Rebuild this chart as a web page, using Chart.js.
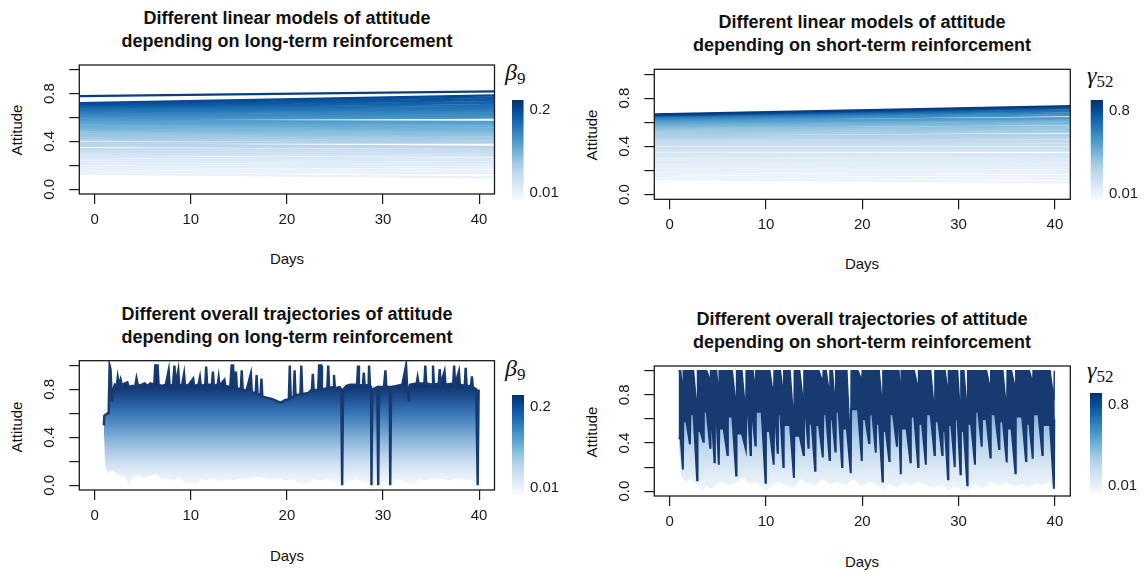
<!DOCTYPE html>
<html>
<head>
<meta charset="utf-8">
<script src="https://cdn.jsdelivr.net/npm/chart.js@4.4.0/dist/chart.umd.min.js"></script>
<style>
body { margin: 0; background: #fff; width: 1145px; height: 572px; position: relative; overflow: hidden;
       font-family: "Liberation Sans", Arial, sans-serif; color: #111; }
canvas { position: absolute; }
.title { position: absolute; width: 520px; text-align: center; font-weight: bold; font-size: 18px; line-height: 22.5px; }
.lab { position: absolute; font-size: 15px; white-space: nowrap; transform: translate(-50%, -50%); }
.ylab { transform: translate(-50%, -50%) rotate(-90deg); }
.sym { position: absolute; font-family: "Liberation Serif", "DejaVu Serif", serif; font-style: italic; font-size: 24px; line-height: 24px; }
.sym span { font-style: normal; font-size: 17px; position: relative; top: 4px; }
</style>
</head>
<body>

<div class="title" style="left:27px;top:7px">Different linear models of attitude<br>depending on long-term reinforcement</div>
<div class="title" style="left:602px;top:11px">Different linear models of attitude<br>depending on short-term reinforcement</div>
<div class="title" style="left:27px;top:303px">Different overall trajectories of attitude<br>depending on long-term reinforcement</div>
<div class="title" style="left:602px;top:308px">Different overall trajectories of attitude<br>depending on short-term reinforcement</div>

<div class="lab ylab" style="left:16px;top:130px">Attitude</div>
<div class="lab ylab" style="left:591px;top:135px">Attitude</div>
<div class="lab ylab" style="left:16px;top:427px">Attitude</div>
<div class="lab ylab" style="left:591px;top:432px">Attitude</div>
<div class="lab" style="left:287px;top:258px">Days</div>
<div class="lab" style="left:862px;top:263px">Days</div>
<div class="lab" style="left:287px;top:555px">Days</div>
<div class="lab" style="left:862px;top:561px">Days</div>

<div class="sym" style="left:505px;top:60px">β<span>9</span></div>
<div class="sym" style="left:1087px;top:63px">γ<span>52</span></div>
<div class="sym" style="left:505px;top:356px">β<span>9</span></div>
<div class="sym" style="left:1087px;top:358px">γ<span>52</span></div>

<canvas id="tl" width="572" height="286" style="left:0;top:0"></canvas>
<canvas id="tr" width="572" height="286" style="left:573px;top:0"></canvas>
<canvas id="bl" width="572" height="286" style="left:0;top:286px"></canvas>
<canvas id="br" width="572" height="286" style="left:573px;top:286px"></canvas>
<canvas id="cbTL" width="72" height="130" style="left:500px;top:85px"></canvas>
<canvas id="cbTR" width="67" height="130" style="left:1078px;top:85px"></canvas>
<canvas id="cbBL" width="72" height="130" style="left:500px;top:380px"></canvas>
<canvas id="cbBR" width="67" height="130" style="left:1078px;top:378px"></canvas>

<script>
// ---- axes ----
const dayTicks = [0, 10, 20, 30, 40];
const attTicks = [0, 0.2, 0.4, 0.6, 0.8, 1.0];
const attLabels = [0, 0.4, 0.8];
const dayRange = [-1.6, 41.6];
const attRange = [-0.04, 1.04];

// ---- linear models (value at left and right edge of the plot) ----
const lineDays = [-1.6, 41.6];

// long-term reinforcement, beta_9
const ltStart = [0.78, 0.72, 0.715, 0.705, 0.70, 0.69, 0.685, 0.675, 0.665, 0.655,
                 0.645, 0.635, 0.62, 0.61, 0.60, 0.585, 0.575, 0.56, 0.55, 0.535,
                 0.52, 0.505, 0.49, 0.475, 0.46, 0.445, 0.43, 0.415, 0.39, 0.375,
                 0.36, 0.335, 0.32, 0.305, 0.29, 0.27, 0.25, 0.23, 0.21, 0.19,
                 0.17, 0.15, 0.13];
const ltEnd = [0.82, 0.785, 0.77, 0.755, 0.745, 0.73, 0.72, 0.705, 0.69, 0.675,
               0.665, 0.65, 0.635, 0.62, 0.605, 0.60, 0.565, 0.555, 0.54, 0.525,
               0.51, 0.495, 0.48, 0.465, 0.45, 0.435, 0.42, 0.40, 0.39, 0.355,
               0.345, 0.33, 0.31, 0.295, 0.28, 0.255, 0.24, 0.22, 0.20, 0.18,
               0.155, 0.135, 0.10];
const ltBeta = [0.21, 0.20, 0.195, 0.19, 0.185, 0.18, 0.175, 0.17, 0.165, 0.16,
                0.155, 0.15, 0.145, 0.14, 0.135, 0.13, 0.125, 0.12, 0.115, 0.11,
                0.105, 0.10, 0.095, 0.09, 0.085, 0.08, 0.075, 0.07, 0.065, 0.06,
                0.055, 0.05, 0.045, 0.04, 0.035, 0.03, 0.026, 0.022, 0.019, 0.016,
                0.013, 0.011, 0.01];

// short-term reinforcement, gamma_52
const stStart = [0.665, 0.66, 0.655, 0.65, 0.64, 0.63, 0.62, 0.61, 0.595, 0.585,
                 0.57, 0.56, 0.545, 0.53, 0.515, 0.50, 0.485, 0.47, 0.455, 0.44,
                 0.425, 0.41, 0.39, 0.375, 0.36, 0.34, 0.325, 0.31, 0.29, 0.275,
                 0.26, 0.24, 0.225, 0.205, 0.19, 0.17, 0.15, 0.13];
const stEnd = [0.735, 0.725, 0.715, 0.70, 0.69, 0.675, 0.66, 0.635, 0.63, 0.615,
               0.60, 0.585, 0.565, 0.55, 0.535, 0.52, 0.495, 0.48, 0.465, 0.445,
               0.43, 0.41, 0.39, 0.375, 0.365, 0.335, 0.32, 0.305, 0.285, 0.27,
               0.25, 0.235, 0.215, 0.195, 0.18, 0.155, 0.13, 0.10];
const stGamma = [0.86, 0.80, 0.74, 0.68, 0.63, 0.58, 0.54, 0.50, 0.46, 0.43,
                 0.40, 0.37, 0.34, 0.32, 0.30, 0.28, 0.26, 0.24, 0.22, 0.20,
                 0.18, 0.165, 0.15, 0.135, 0.12, 0.105, 0.09, 0.08, 0.07, 0.06,
                 0.05, 0.042, 0.035, 0.028, 0.022, 0.017, 0.013, 0.01];

// ---- overall trajectories, long-term: upper and lower envelope of the bundle ----
const blTopDays = [0.95, 1.00, 1.30, 1.45, 1.55, 1.65, 1.80, 1.95, 2.10, 2.30,
                   2.40, 2.55, 2.70, 2.85, 3.10, 3.40, 3.55, 3.90, 4.20, 4.35,
                   4.50, 4.90, 5.20, 5.50, 5.80, 6.20, 6.30, 6.55, 6.65, 7.00,
                   7.40, 7.70, 7.80, 8.15, 8.30, 8.40, 8.70, 8.80, 9.10, 9.30,
                   9.40, 9.80, 10.25, 10.35, 10.80, 10.95, 11.05, 11.50, 11.60, 11.70,
                   12.20, 12.30, 12.40, 12.80, 12.90, 13.00, 13.50, 13.60, 14.10, 14.25,
                   14.40, 14.50, 14.70, 14.80, 15.20, 15.30, 15.40, 15.80, 16.25, 16.35,
                   16.75, 16.85, 16.95, 17.25, 17.35, 17.45, 18.00, 18.50, 19.00, 19.40,
                   19.80, 20.20, 20.30, 20.40, 20.70, 20.80, 20.90, 21.40, 21.50, 21.60,
                   22.20, 22.60, 22.70, 22.80, 23.25, 23.35, 23.55, 23.65, 24.20, 24.30,
                   24.40, 24.80, 24.90, 25.00, 25.50, 25.65, 25.75, 25.85, 26.20, 26.60,
                   27.30, 27.40, 27.50, 27.90, 28.00, 28.10, 28.50, 28.55, 28.65, 28.75,
                   28.80, 28.88, 29.40, 29.50, 29.60, 30.10, 30.25, 30.35, 30.70, 30.75,
                   30.85, 31.40, 32.00, 32.40, 32.50, 32.70, 32.80, 33.50, 33.60, 33.70,
                   34.30, 34.40, 34.50, 35.10, 35.20, 35.30, 35.80, 35.90, 36.00, 36.40,
                   36.50, 37.30, 37.40, 37.50, 37.90, 38.00, 38.50, 38.60, 38.70, 39.15,
                   39.25, 39.35, 39.70, 39.85, 39.95];
const blTop = [0.50, 0.58, 0.60, 0.60, 1.00, 0.97, 0.70, 0.80, 0.84, 0.83,
               0.90, 0.83, 0.88, 0.83, 0.85, 0.86, 0.82, 0.83, 0.82, 0.89,
               0.83, 0.84, 0.85, 0.83, 0.85, 0.84, 1.00, 1.00, 0.84, 0.83,
               0.84, 0.96, 0.83, 0.84, 1.00, 0.84, 0.96, 0.83, 0.84, 0.93,
               0.83, 0.84, 0.89, 0.83, 0.84, 0.90, 0.83, 0.84, 0.99, 0.84,
               0.84, 0.95, 0.83, 0.84, 0.90, 0.83, 0.88, 0.83, 0.82, 1.00,
               1.00, 0.82, 0.95, 0.81, 0.80, 0.96, 0.80, 0.79, 0.93, 0.78,
               0.77, 0.92, 0.76, 0.75, 0.89, 0.74, 0.73, 0.72, 0.70, 0.69,
               0.71, 0.72, 1.00, 0.73, 0.74, 0.96, 0.75, 0.76, 1.00, 0.76,
               0.77, 0.80, 0.93, 0.79, 0.80, 1.00, 1.00, 0.80, 0.81, 1.00,
               0.81, 0.82, 0.92, 0.81, 0.82, 0.80, 0.00, 0.80, 0.83, 0.84,
               0.84, 1.00, 0.84, 0.83, 0.94, 0.83, 0.84, 1.00, 0.83, 0.80,
               0.00, 0.80, 0.82, 0.00, 0.82, 0.82, 0.96, 0.82, 0.82, 0.00,
               0.82, 0.83, 0.84, 1.00, 0.84, 0.70, 0.84, 0.85, 0.90, 0.85,
               0.85, 1.00, 0.85, 0.84, 1.00, 0.84, 0.85, 0.97, 0.84, 0.95,
               0.84, 0.85, 1.00, 0.84, 0.95, 0.84, 0.83, 0.98, 0.83, 0.83,
               0.91, 0.82, 0.80, 0.00, 0.80];
const blBottomDays = [0.95, 1.10, 1.40, 1.80, 2.30, 2.80, 3.20, 3.60, 3.90, 4.50,
                      5.10, 5.80, 6.40, 7.00, 7.60, 8.20, 8.80, 9.60, 10.00, 10.50,
                      11.00, 11.60, 12.30, 13.00, 13.70, 14.40, 15.20, 16.00, 16.80, 17.50,
                      18.30, 19.10, 19.80, 20.50, 21.30, 22.00, 22.70, 23.50, 24.30, 25.00,
                      25.75, 26.40, 27.20, 28.00, 28.80, 29.50, 30.20, 30.75, 31.50, 32.20,
                      33.00, 33.80, 34.60, 35.40, 36.20, 37.00, 37.80, 38.60, 39.30, 39.85,
                      39.95];
const blBottom = [0.48, 0.15, 0.10, 0.12, 0.10, 0.08, 0.06, 0.00, 0.06, 0.08,
                  0.06, 0.08, 0.10, 0.05, 0.06, 0.04, 0.07, 0.00, 0.03, 0.00,
                  0.05, 0.04, 0.06, 0.03, 0.05, 0.04, 0.06, 0.05, 0.07, 0.06,
                  0.05, 0.06, 0.04, 0.05, 0.02, 0.00, 0.05, 0.04, 0.05, 0.03,
                  0.00, 0.04, 0.05, 0.03, 0.00, 0.00, 0.04, 0.00, 0.05, 0.03,
                  0.00, 0.05, 0.04, 0.06, 0.05, 0.04, 0.06, 0.04, 0.05, 0.00,
                  0.30];

// ---- overall trajectories, short-term: reinforcement events ----
// just before each event the darkest curves have dropped to brDarkLow and the top to brNotch;
// at the event they jump back (top to 1, dark edge to brDarkHigh) and hold until the next drop
const brEventDays = [0.92, 1.37, 2.10, 2.85, 3.50, 4.20, 4.65, 5.10, 6.00, 6.90,
                     7.90, 8.40, 8.90, 9.95, 10.8, 11.2, 11.8, 12.9, 13.9, 14.4,
                     15.1, 15.9, 16.6, 17.2, 17.9, 18.8, 19.95, 20.7, 21.4, 22.1,
                     22.8, 23.6, 24.0, 25.0, 25.8, 26.6, 27.5, 28.3, 28.9, 29.6,
                     30.2, 30.9, 31.7, 32.4, 33.3, 34.2, 35.0, 35.9, 37.0, 37.7,
                     38.7, 39.9, 40.0];
const brDarkLow = [0.44, 0.18, 0.39, 0.09, 0.41, 0.36, 0.24, 0.22, 0.30, 0.13,
                   0.35, 0.30, 0.38, 0.07, 0.22, 0.32, 0.20, 0.11, 0.30, 0.36,
                   0.17, 0.28, 0.26, 0.33, 0.20, 0.15, 0.25, 0.40, 0.32, 0.08,
                   0.25, 0.37, 0.14, 0.24, 0.20, 0.22, 0.30, 0.30, 0.10, 0.20,
                   0.14, 0.05, 0.22, 0.37, 0.28, 0.35, 0.24, 0.15, 0.25, 0.27,
                   0.30, 0.02, 0.60];
const brNotch = [1.0, 0.78, 1.0, 0.66, 1.0, 0.92, 1.0, 0.75, 1.0, 0.70,
                 0.64, 1.0, 0.85, 1.0, 0.78, 1.0, 0.80, 0.55, 0.72, 1.0,
                 1.0, 0.90, 0.80, 0.70, 1.0, 0.32, 0.92, 1.0, 1.0, 0.70,
                 1.0, 1.0, 0.75, 1.0, 0.85, 1.0, 0.66, 1.0, 0.80, 1.0,
                 0.60, 0.65, 1.0, 1.0, 0.85, 1.0, 0.65, 0.85, 1.0, 0.90,
                 1.0, 0.75, 1.0];
const brDarkHigh = [0.44, 0.58, 0.64, 0.50, 0.66, 0.55, 0.60, 0.52, 0.62, 0.48,
                    0.64, 0.58, 0.66, 0.50, 0.60, 0.64, 0.55, 0.46, 0.62, 0.56,
                    0.55, 0.64, 0.60, 0.66, 0.52, 0.68, 0.60, 0.64, 0.56, 0.50,
                    0.64, 0.60, 0.52, 0.62, 0.56, 0.64, 0.58, 0.50, 0.55, 0.60,
                    0.50, 0.56, 0.66, 0.60, 0.64, 0.58, 0.52, 0.62, 0.56, 0.64,
                    0.55, 0.60, 0.60];
const brLightDays = [0.92, 1.20, 1.60, 2.20, 2.90, 3.40, 3.80, 4.30, 4.90, 5.50,
                     6.20, 6.90, 7.50, 8.30, 9.00, 9.90, 10.60, 11.30, 12.00, 12.90,
                     13.60, 14.40, 15.10, 15.90, 16.60, 17.40, 18.30, 19.00, 19.90, 20.80,
                     21.50, 22.20, 22.90, 23.60, 24.30, 25.00, 25.80, 26.60, 27.50, 28.30,
                     28.90, 29.60, 30.20, 30.90, 31.70, 32.40, 33.30, 34.20, 35.00, 35.90,
                     36.60, 37.30, 38.00, 38.70, 39.40, 39.90, 40.00];
const brLight = [0.44, 0.12, 0.08, 0.10, 0.05, 0.00, 0.04, 0.02, 0.06, 0.08,
                 0.05, 0.07, 0.12, 0.06, 0.08, 0.00, 0.04, 0.08, 0.05, 0.03,
                 0.10, 0.06, 0.05, 0.10, 0.06, 0.08, 0.05, 0.10, 0.04, 0.08,
                 0.05, 0.01, 0.06, 0.03, 0.07, 0.05, 0.08, 0.05, 0.03, 0.06,
                 0.00, 0.04, 0.02, 0.00, 0.06, 0.02, 0.08, 0.05, 0.07, 0.04,
                 0.06, 0.03, 0.07, 0.05, 0.08, 0.00, 0.30];

// ---- colour keys ----
const cbBetaTicks = [0.01, 0.2];
const cbGammaTicks = [0.01, 0.8];
const cbLimTL = [-0.007, 0.223];
const cbLimTR = [-0.052, 0.904];
const cbLimBL = [-0.006, 0.227];
const cbLimBR = [-0.058, 0.916];

// ---------------------------------------------------------------
const FONT = '"Liberation Sans", Arial, sans-serif';
const INK = '#1a1a1a';
const NAVY = '#173b71';
const blues = ['#F7FBFF', '#DEEBF7', '#C6DBEF', '#9ECAE1', '#6BAED6', '#4292C6', '#2171B5', '#08519C', '#08306B'];

function hexRgb(h) {
    return [1, 3, 5].map(i => parseInt(h.substr(i, 2), 16));
}
function blue(t) {
    t = Math.max(0, Math.min(1, t)) * (blues.length - 1);
    const i = Math.min(Math.floor(t), blues.length - 2), f = t - i;
    const a = hexRgb(blues[i]), b = hexRgb(blues[i + 1]);
    return 'rgb(' + [0, 1, 2].map(k => Math.round(a[k] + (b[k] - a[k]) * f)).join(',') + ')';
}
// vertical gradient tied to attitude values
function valueGradient(chart, stops) {
    const y = chart.scales.y;
    const v0 = stops[0][0], v1 = stops[stops.length - 1][0];
    const g = chart.ctx.createLinearGradient(0, y.getPixelForValue(v0), 0, y.getPixelForValue(v1));
    stops.forEach(s => g.addColorStop((s[0] - v0) / (v1 - v0), s[1]));
    return g;
}
const bundleStops = [[0.0, '#f6f9fd'], [0.1, '#e3edf8'], [0.2, '#c9ddf0'], [0.3, '#a7c7e4'], [0.4, '#80aed7'],
                     [0.5, '#5a92c7'], [0.6, '#3a76b5'], [0.7, '#24589b'], [0.78, '#17427f'], [0.85, '#0d2f63']];
const lightStops = [[0.0, '#f1f6fb'], [0.15, '#e0ebf6'], [0.3, '#cadef0'], [0.45, '#aecce8'], [0.65, '#82b1db']];

const boxPlugin = {
    id: 'box',
    afterDraw(chart) {
        const {ctx, chartArea: a} = chart;
        ctx.save();
        ctx.strokeStyle = INK;
        ctx.lineWidth = 1.3;
        ctx.strokeRect(a.left, a.top, a.right - a.left, a.bottom - a.top);
        ctx.restore();
    }
};

function panelScales() {
    return {
        x: {
            type: 'linear', min: dayRange[0], max: dayRange[1],
            afterBuildTicks: s => { s.ticks = dayTicks.map(v => ({value: v})); },
            afterFit: s => { s.height = 40; },
            grid: {drawOnChartArea: false, tickLength: 10, color: INK, lineWidth: 1.2},
            border: {display: false},
            ticks: {font: {size: 15, family: FONT}, color: INK, padding: 7, maxRotation: 0, minRotation: 0, autoSkip: false}
        },
        y: {
            type: 'linear', min: attRange[0], max: attRange[1],
            afterBuildTicks: s => { s.ticks = attTicks.map(v => ({value: v})); },
            afterFit: s => { s.width = 45; },
            grid: {drawOnChartArea: false, tickLength: 10, color: INK, lineWidth: 1.2},
            border: {display: false},
            ticks: {
                font: {size: 15, family: FONT}, color: INK, minRotation: 90, maxRotation: 90,
                crossAlign: 'center', autoSkip: false,
                // blank ticks keep a wide label box so the printed ones sit off the axis
                callback: v => attLabels.includes(v) ? v.toFixed(1) : '        '
            }
        }
    };
}

function panel(id, padding, datasets) {
    return new Chart(document.getElementById(id), {
        type: 'line',
        data: {datasets: datasets},
        options: {
            responsive: false,
            animation: false,
            layout: {padding: padding, autoPadding: false},
            elements: {point: {radius: 0}, line: {tension: 0}},
            plugins: {legend: {display: false}, tooltip: {enabled: false}, title: {display: false}},
            scales: panelScales()
        },
        plugins: [boxPlugin]
    });
}

function modelLines(start, end, param, lim) {
    return start.map((s, i) => ({
        data: [{x: lineDays[0], y: s}, {x: lineDays[1], y: end[i]}],
        borderColor: blue((param[i] - lim[0]) / (lim[1] - lim[0])),
        borderWidth: 2.2,
        fill: false,
        clip: 0
    }));
}

function pts(xs, ys) {
    return xs.map((x, i) => ({x: x, y: ys[i]}));
}

// top panels
panel('tl', {left: 34.3, top: 65, right: 77.5, bottom: 52}, modelLines(ltStart, ltEnd, ltBeta, cbLimTL));
panel('tr', {left: 36.3, top: 69.3, right: 74.7, bottom: 46.7}, modelLines(stStart, stEnd, stGamma, cbLimTR));

// bottom left: the bundle of trajectories
panel('bl', {left: 34.3, top: 74.7, right: 77.5, bottom: 42}, [
    {
        data: pts(blTopDays, blTop),
        borderColor: NAVY, borderWidth: 2.4,
        backgroundColor: c => c.chart.chartArea ? valueGradient(c.chart, bundleStops) : '#5a92c7',
        fill: '+1', clip: 0
    },
    {data: pts(blBottomDays, blBottom), borderWidth: 0, fill: false, clip: 0}
]);

// bottom right: saw-tooth trajectories built from the event table
const JUMP = 0.04, DROP = 0.4;
const brTopPts = [], brDarkPts = [];
brEventDays.forEach((d, i) => {
    if (i > 0) {
        const w = Math.min(DROP, (d - brEventDays[i - 1]) * 0.5);
        brTopPts.push({x: d - w, y: 1.0});
        brDarkPts.push({x: d - w, y: brDarkHigh[i - 1]});
    }
    brTopPts.push({x: d, y: brNotch[i]});
    brDarkPts.push({x: d, y: brDarkLow[i]});
    if (i < brEventDays.length - 1) {
        brTopPts.push({x: d + JUMP, y: 1.0});
        brDarkPts.push({x: d + JUMP, y: brDarkHigh[i]});
    }
});
panel('br', {left: 36.3, top: 80, right: 74.7, bottom: 36}, [
    {data: brTopPts, borderColor: NAVY, borderWidth: 1.5, backgroundColor: NAVY, fill: '+1', clip: 0},
    {
        data: brDarkPts, borderColor: NAVY, borderWidth: 2,
        backgroundColor: c => c.chart.chartArea ? valueGradient(c.chart, lightStops) : '#cadef0',
        fill: '+1', clip: 0
    },
    {data: pts(brLightDays, brLight), borderWidth: 0, fill: false, clip: 0}
]);

// colour keys
function colorbar(id, lim, ticks, padding) {
    new Chart(document.getElementById(id), {
        type: 'bar',
        data: {
            labels: [''],
            datasets: [{
                data: [[lim[0], lim[1]]],
                borderWidth: 0,
                barPercentage: 1,
                categoryPercentage: 1,
                backgroundColor: c => {
                    const a = c.chart.chartArea;
                    if (!a) return blues[4];
                    const g = c.chart.ctx.createLinearGradient(0, a.bottom, 0, a.top);
                    blues.forEach((col, i) => g.addColorStop(i / (blues.length - 1), col));
                    return g;
                }
            }]
        },
        options: {
            responsive: false,
            animation: false,
            layout: {padding: padding, autoPadding: false},
            plugins: {legend: {display: false}, tooltip: {enabled: false}},
            scales: {
                x: {display: false},
                y: {
                    position: 'right', min: lim[0], max: lim[1],
                    afterBuildTicks: s => { s.ticks = ticks.map(v => ({value: v})); },
                    afterFit: s => { s.width = 40; },
                    grid: {display: false, drawTicks: false},
                    border: {display: false},
                    ticks: {font: {size: 15, family: FONT}, color: INK, padding: 6, callback: v => String(v)}
                }
            }
        }
    });
}
colorbar('cbTL', cbLimTL, cbBetaTicks, {left: 12, top: 12.7, right: 8.4, bottom: 13.3});
colorbar('cbTR', cbLimTR, cbGammaTicks, {left: 12.6, top: 11, right: 2, bottom: 15});
colorbar('cbBL', cbLimBL, cbBetaTicks, {left: 12, top: 13, right: 8, bottom: 13});
colorbar('cbBR', cbLimBR, cbGammaTicks, {left: 12, top: 12.7, right: 3, bottom: 11.3});
</script>
</body>
</html>
